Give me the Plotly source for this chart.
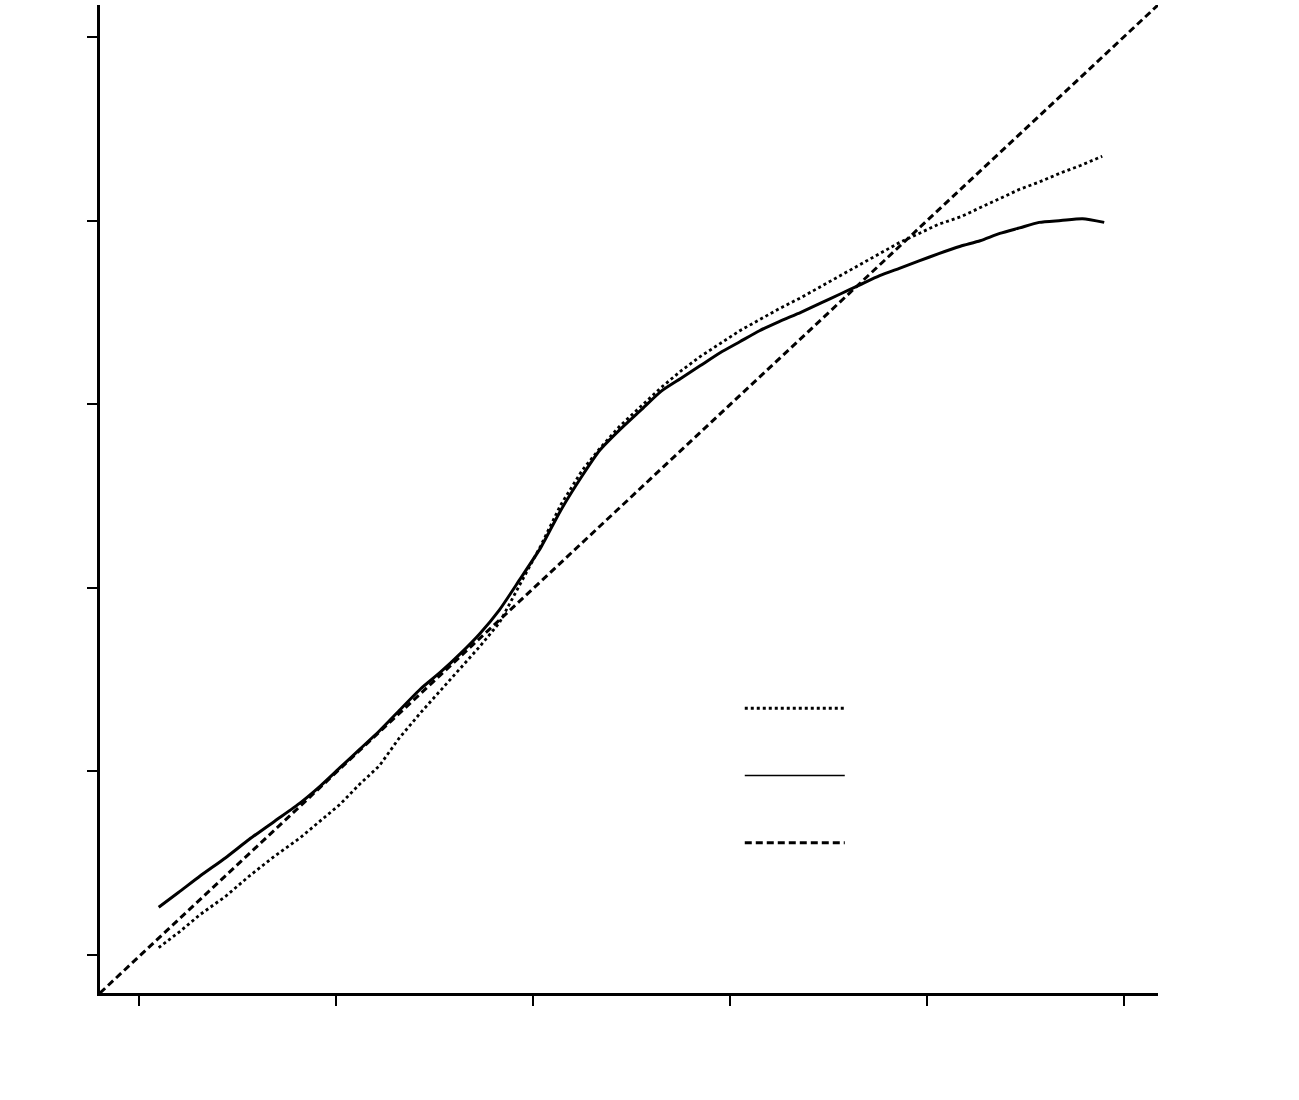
import plotly.graph_objects as go

# Data (axis units; ticks at 0..5 on both axes)
x_solid = [0.10, 0.20, 0.31, 0.44, 0.56, 0.69, 0.82, 0.92, 1.02, 1.12, 1.22, 1.32, 1.43, 1.53,
           1.63, 1.73, 1.83, 1.93, 2.04, 2.14, 2.25, 2.34, 2.44, 2.55, 2.65, 2.75, 2.85, 2.95,
           3.05, 3.15, 3.25, 3.36, 3.46, 3.56, 3.66, 3.76, 3.86, 3.96, 4.06, 4.17, 4.27, 4.37,
           4.47, 4.57, 4.68, 4.79, 4.90]
y_solid = [0.26, 0.34, 0.43, 0.53, 0.63, 0.73, 0.83, 0.92, 1.02, 1.12, 1.22, 1.33, 1.45, 1.54,
           1.64, 1.75, 1.88, 2.04, 2.22, 2.42, 2.61, 2.75, 2.86, 2.97, 3.07, 3.14, 3.21, 3.28,
           3.34, 3.40, 3.45, 3.50, 3.55, 3.60, 3.65, 3.70, 3.74, 3.78, 3.82, 3.86, 3.89, 3.93,
           3.96, 3.99, 4.00, 4.01, 3.99]

x_dot = [0.10, 0.21, 0.31, 0.44, 0.56, 0.69, 0.82, 0.92, 1.02, 1.12, 1.22, 1.32, 1.43, 1.53,
         1.63, 1.73, 1.83, 1.93, 2.04, 2.14, 2.25, 2.34, 2.44, 2.55, 2.65, 2.75, 2.85, 2.95,
         3.05, 3.15, 3.25, 3.36, 3.46, 3.56, 3.66, 3.76, 3.86, 3.96, 4.06, 4.17, 4.27, 4.37,
         4.47, 4.57, 4.68, 4.78, 4.89]
y_dot = [0.04, 0.13, 0.22, 0.32, 0.43, 0.54, 0.64, 0.73, 0.82, 0.93, 1.03, 1.18, 1.32, 1.44,
         1.56, 1.68, 1.81, 2.01, 2.23, 2.45, 2.64, 2.76, 2.88, 2.99, 3.09, 3.18, 3.26, 3.33,
         3.40, 3.46, 3.52, 3.58, 3.64, 3.70, 3.76, 3.82, 3.88, 3.93, 3.98, 4.02, 4.07, 4.12,
         4.17, 4.21, 4.26, 4.30, 4.35]

x_diag = [-0.198, 5.173]
y_diag = [-0.207, 5.174]

tick_vals = [0, 1, 2, 3, 4, 5]

fig = go.Figure()
fig.add_trace(go.Scatter(x=x_dot, y=y_dot, mode="lines", name=" ",
                         legendgroup="a", legendrank=1,
                         line=dict(color="black", width=2.8, dash="dot")))
fig.add_trace(go.Scatter(x=x_solid, y=y_solid, mode="lines", name=" ",
                         legendgroup="b", showlegend=False,
                         line=dict(color="black", width=3, shape="spline", smoothing=0.6)))
# legend entry for the solid series (thinner sample, as in the original key)
fig.add_trace(go.Scatter(x=[None], y=[None], mode="lines", name=" ",
                         legendgroup="b", legendrank=2, showlegend=True,
                         line=dict(color="black", width=1.5)))
fig.add_trace(go.Scatter(x=x_diag, y=y_diag, mode="lines", name=" ",
                         legendgroup="c", legendrank=3,
                         line=dict(color="black", width=3, dash="7px,4px")))

axis_common = dict(
    showgrid=False, zeroline=False, showticklabels=False,
    showline=True, linecolor="black", linewidth=2.5,
    ticks="outside", ticklen=10, tickwidth=1.5, tickcolor="black",
    tickmode="array", tickvals=tick_vals,
)

fig.update_layout(
    width=1299, height=1100,
    margin=dict(l=100, r=141, t=5, b=107),
    paper_bgcolor="white", plot_bgcolor="white",
    showlegend=True,
    legend=dict(x=0.6047, y=0.304, xanchor="left", yanchor="top",
                itemwidth=100, tracegroupgap=46, font=dict(size=14),
                bgcolor="rgba(0,0,0,0)"),
    xaxis=dict(range=[-0.198, 5.173], **axis_common),
    yaxis=dict(range=[-0.207, 5.174], **axis_common),
)

fig.write_html("out.html", config={"displayModeBar": False},
               post_script="document.body.style.margin='0';")
